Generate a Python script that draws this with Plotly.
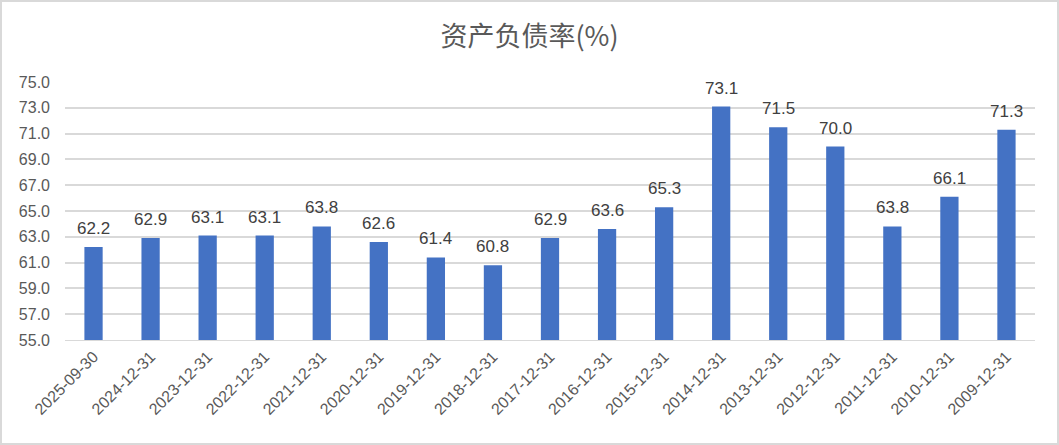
import plotly.graph_objects as go

dates = ["2025-09-30", "2024-12-31", "2023-12-31", "2022-12-31", "2021-12-31", "2020-12-31",
         "2019-12-31", "2018-12-31", "2017-12-31", "2016-12-31", "2015-12-31", "2014-12-31",
         "2013-12-31", "2012-12-31", "2011-12-31", "2010-12-31", "2009-12-31"]
ratio = [62.2, 62.9, 63.1, 63.1, 63.8, 62.6, 61.4, 60.8, 62.9, 63.6, 65.3, 73.1,
         71.5, 70.0, 63.8, 66.1, 71.3]
y_ticks = [55, 57, 59, 61, 63, 65, 67, 69, 71, 73, 75]

fig = go.Figure(go.Bar(
    x=dates, y=ratio,
    marker=dict(color="#4472C4", line=dict(width=0)),
))

for d, v in zip(dates, ratio):
    fig.add_annotation(x=d, y=v, text=f"{v:.1f}", showarrow=False, yanchor="bottom",
                       yshift=7, font=dict(family="Liberation Sans, Arial", size=17, color="#404040"))

fig.update_layout(
    width=1059, height=445,
    margin=dict(l=65, r=24, t=82, b=105),
    paper_bgcolor="white", plot_bgcolor="white",
    bargap=0.68, showlegend=False,
    title=dict(text="资产负债率(%)", x=0.5, xanchor="center", y=1 - 37/445, yanchor="middle",
               font=dict(family="Noto Sans CJK SC", size=27, color="#595959")),
    xaxis=dict(type="category", tickangle=-45, showgrid=False, showline=True,
               linecolor="#D9D9D9", linewidth=1, automargin=False,
               tickfont=dict(family="Liberation Sans, Arial", size=16, color="#595959")),
    yaxis=dict(range=[55, 75], tickvals=y_ticks, tickformat=".1f", showgrid=True,
               gridcolor="#D9D9D9", gridwidth=1.5, zeroline=False, ticklabelstandoff=14,
               automargin=False,
               tickfont=dict(family="Liberation Sans, Arial", size=16, color="#595959")),
    shapes=[dict(type="rect", xref="paper", yref="paper", x0=-64/970, x1=1+23/970,
                 y0=-104/258, y1=1+81/258, line=dict(color="#D9D9D9", width=2))],
)

fig.write_html("out.html", config={"displayModeBar": False},
               post_script="document.body.style.margin='0';")
